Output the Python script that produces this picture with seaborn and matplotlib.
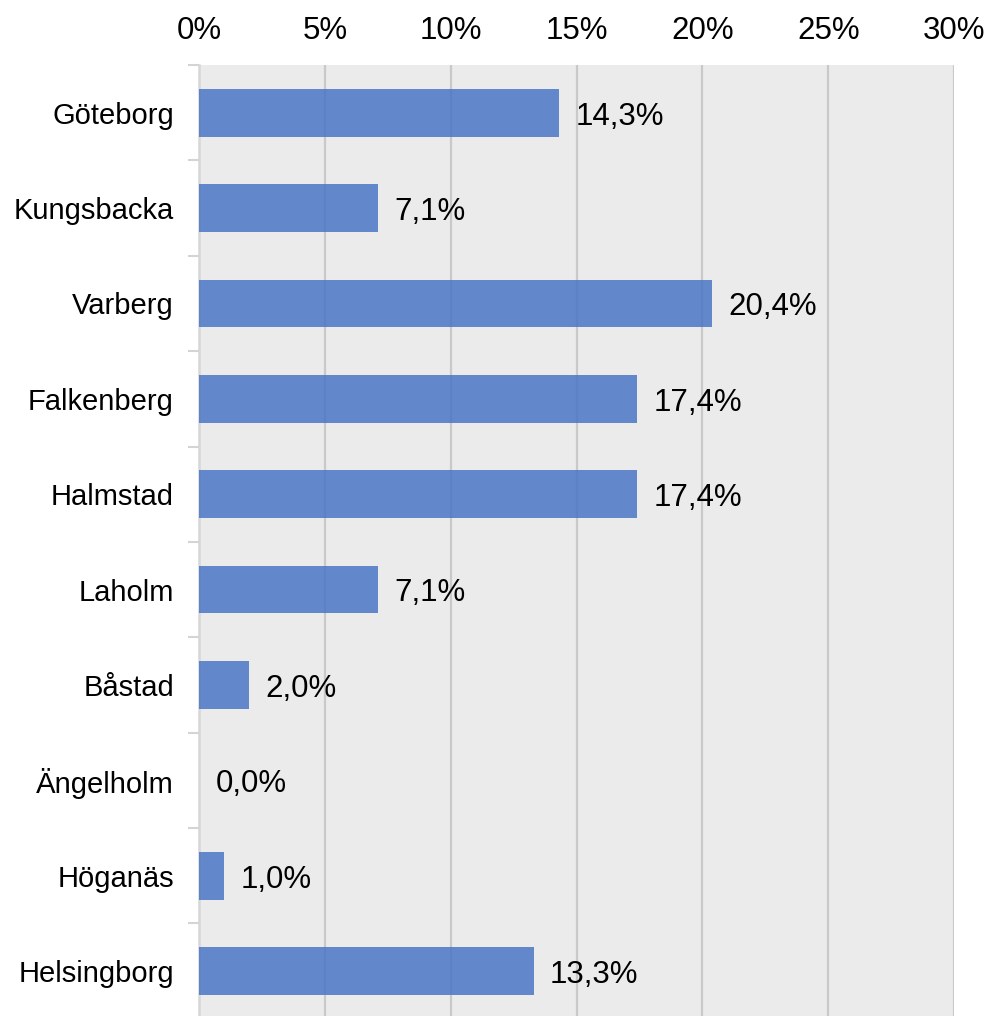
import matplotlib
matplotlib.use("Agg")
import matplotlib.pyplot as plt
import seaborn as sns
import numpy as np
from matplotlib.ticker import FixedLocator, FuncFormatter

# Share per municipality (percent)
municipalities = ["Göteborg", "Kungsbacka", "Varberg", "Falkenberg", "Halmstad",
                  "Laholm", "Båstad", "Ängelholm", "Höganäs", "Helsingborg"]
shares = [14.3, 7.1, 20.4, 17.4, 17.4, 7.1, 2.0, 0.0, 1.0, 13.3]
x_ticks = [0, 5, 10, 15, 20, 25, 30]

sns.set_theme(style="white")
plt.rcParams["font.family"] = ["Liberation Sans", "DejaVu Sans"]

fig = plt.figure(figsize=(9.91, 10.16), dpi=100)
ax = fig.add_axes([0.2008, -0.0027, 0.7619, 0.9387])
ax.set_facecolor("#ebebeb")

sns.barplot(x=shares, y=municipalities, orient="h", color="#4472C4",
            saturation=1, alpha=0.82, width=0.5, linewidth=0,
            edgecolor="none", ax=ax, zorder=3)

ax.set_xlim(0, 30)
ax.set_ylim(len(municipalities) - 0.5, -0.5)
ax.set_xticks(x_ticks)
ax.xaxis.set_major_formatter(FuncFormatter(lambda v, p: f"{v:.0f}%"))
ax.xaxis.tick_top()
ax.tick_params(axis="x", length=0, pad=14, labelsize=22.5, labelcolor="black")
ax.tick_params(axis="y", which="major", length=0, pad=18, labelsize=21,
               labelcolor="black")

# boundary tick marks between categories
ax.yaxis.set_minor_locator(FixedLocator(np.arange(-0.5, len(municipalities), 1.0)))
ax.tick_params(axis="y", which="minor", length=8, width=1.5, color="#d4d4d4", left=True)

for gx in x_ticks[1:]:
    ax.axvline(gx, color="#c9c9c9", lw=1.6, zorder=1)

for s in ["top", "right", "bottom"]:
    ax.spines[s].set_visible(False)
ax.spines["left"].set_color("#d6d6d6")
ax.spines["left"].set_linewidth(1.8)

ax.set_xlabel("")
ax.set_ylabel("")

for i, v in enumerate(shares):
    ax.text(v + 0.65, i + 0.04, f"{v:.1f}%".replace(".", ","), va="center", ha="left",
            fontsize=22.5, color="black", zorder=4)

fig.savefig("out.png", dpi=100)
